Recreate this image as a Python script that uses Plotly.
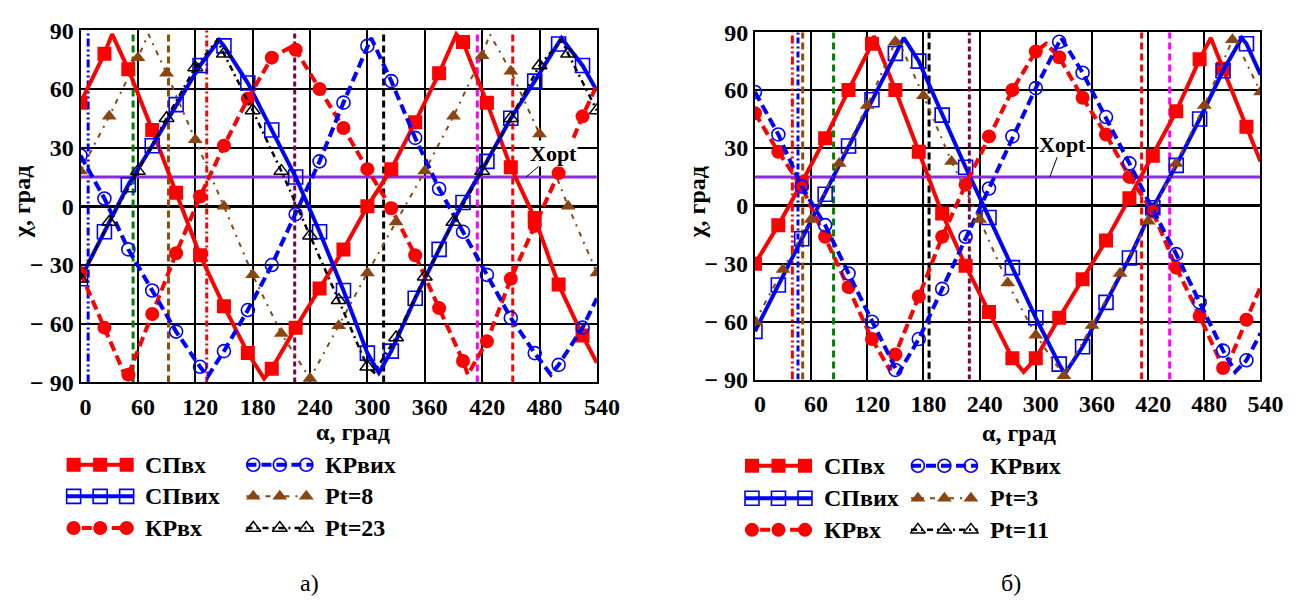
import plotly.graph_objects as go

# ---------------- ticks ----------------
X_TICKS = [0, 60, 120, 180, 240, 300, 360, 420, 480, 540]
X_TICK_TEXT = ["0", "60", "120", "180", "240", "300", "360", "420", "480", "540"]
Y_TICKS = [-90, -60, -30, 0, 30, 60, 90]
Y_TICK_TEXT = ["\u2212 90", "\u2212 60", "\u2212 30", "0", "30", "60", "90"]

# marker abscissas
MARK_X_25 = [0, 25, 50, 75, 100, 125, 150, 175, 200, 225, 250, 275, 300, 325, 350,
             375, 400, 425, 450, 475, 500, 525]
MARK_X_30 = [0, 30, 60, 90, 120, 150, 180, 210, 240, 270, 300, 330, 360, 390, 420,
             450, 480, 510, 540]

XOPT = 15

# ---------------- chart а) ----------------
A_SP_IN_Y = [53, 78, 70, 39, 7, -25, -51, -75, -83, -62, -42, -22, 0, 19, 43, 68, 84, 53, 20, -6, -40, -66]
A_SP_IN_VX = [33, 192, 393, 540]
A_SP_IN_VY = [88, -88, 88, -80]

A_SP_OUT_Y = [-37, -13, 11, 31, 52, 72, 82, 63, 39, 15, -13, -43, -75, -74, -47, -22, 2, 23, 45, 64, 83, 72]
A_SP_OUT_VX = [145, 312, 503, 540]
A_SP_OUT_VY = [85, -85, 86, 59]

A_KR_IN_Y = [-34, -62, -86, -55, -24, 5, 31, 55, 76, 80, 60, 40, 19, -1, -25, -52, -79, -69, -37, -10, 17, 46]
A_KR_IN_VX = [48, 222, 405, 540]
A_KR_IN_VY = [-88, 82, -86, 62]

A_KR_OUT_Y = [26, 4, -22, -43, -64, -82, -74, -53, -30, -4, 23, 53, 82, 64, 35, 9, -13, -35, -57, -75, -81, -62]
A_KR_OUT_VX = [133, 304, 492, 540]
A_KR_OUT_VY = [-87, 86, -86, -47]

A_PT1_Y = [18, 46, 76, 68, 34, 0, -35, -65, -88, -61, -34, -8, 18, 46, 77, 69, 37, 0, -34]
A_PT1_VX = [71, 428]
A_PT1_VY = [88, 88]

A_PT2_Y = [-37, -8, 18, 45, 71, 78, 49, 18, -15, -48, -82, -67, -36, -8, 18, 45, 72, 78, 49]
A_PT2_VX = [143, 307, 503]
A_PT2_VY = [85, -85, 85]

A_VLINES = [8, 55, 92, 132, 224, 317, 415, 452]

# ---------------- chart б) ----------------
B_SP_IN_Y = [-30, -10, 12, 35, 60, 84, 60, 28, -4, -31, -55, -79, -79, -58, -38, -18, 4, 26, 49, 76, 71, 41]
B_SP_IN_VX = [127, 287, 487, 540]
B_SP_IN_VY = [88, -86, 87, 23]

B_SP_OUT_Y = [-65, -41, -17, 6, 31, 55, 79, 75, 47, 20, -6, -32, -58, -82, -73, -50, -27, -1, 21, 45, 70, 84]
B_SP_OUT_VX = [159, 331, 520, 540]
B_SP_OUT_VY = [87, -87, 87, 68]

B_KR_IN_Y = [48, 28, 10, -16, -42, -69, -77, -47, -16, 11, 36, 60, 80, 77, 56, 37, 15, -3, -32, -57, -84, -59]
B_KR_IN_VX = [144, 311, 502, 540]
B_KR_IN_VY = [-85, 84, -86, -42]

B_KR_OUT_Y = [59, 37, 10, -10, -35, -60, -85, -69, -43, -16, 9, 36, 61, 85, 69, 46, 22, -2, -25, -50, -75, -80]
B_KR_OUT_VX = [153, 327, 513, 540]
B_KR_OUT_VY = [-87, 87, -86, -66]

B_PT1_Y = [-60, -33, -7, 22, 52, 85, 57, 23, -7, -40, -67, -88, -62, -35, -8, 22, 52, 86, 59]
B_PT1_VX = [151, 511]
B_PT1_VY = [88, 88]

B_VLINES = [40, 46, 51, 84, 186, 229, 413, 443]

# ---------------- styles ----------------
W, H = 1310, 607
LEG_TOP = 452
FONT = "Liberation Serif"
RED, BLUE, BROWN, BLACK = "#ff0000", "#0000ff", "#8b4513", "#000000"
VIOLET = "#8a2be2"
CLEAR = "rgba(0,0,0,0)"

STYLE = {
    "sp_in": dict(line=dict(color=RED, width=4), marker=dict(symbol="square", size=14, color=RED)),
    "sp_out": dict(line=dict(color=BLUE, width=4),
                   marker=dict(symbol="square-open", size=14, color=BLUE, line=dict(width=1.6, color=BLUE))),
    "kr_in": dict(line=dict(color=RED, width=4, dash="10px,5px"), marker=dict(symbol="circle", size=14, color=RED)),
    "kr_out": dict(line=dict(color=BLUE, width=4, dash="10px,5px"),
                   marker=dict(symbol="circle-open", size=13, color=BLUE, line=dict(width=1.6, color=BLUE))),
    "pt1": dict(line=dict(color=BROWN, width=2, dash="5px,6px,2px,6px"),
                marker=dict(symbol="triangle-up", size=13, color=BROWN)),
    "pt2": dict(line=dict(color=BLACK, width=2.5, dash="6px,4px,2px,4px"),
                marker=dict(symbol="triangle-up-open", size=13, color=BLACK, line=dict(width=1.5, color=BLACK))),
}
VLINE_STYLE_A = [(BLUE, "8px,3px,2px,3px,2px,3px"), ("#008000", "7px,4px"), ("#964b00", "7px,4px"),
                 (RED, "6px,3px,2px,3px"), ("#800040", "5px,3px"), (BLACK, "7px,4px"),
                 ("#ff00ff", "7px,4px"), (RED, "7px,4px")]
VLINE_STYLE_B = [(RED, "8px,3px,2px,3px,2px,3px"), (BLUE, "6px,3px,2px,3px"), ("#964b00", "7px,4px"),
                 ("#008000", "7px,4px"), (BLACK, "7px,4px"), ("#800040", "5px,3px"),
                 (RED, "7px,4px"), ("#ff00ff", "7px,4px")]


def merged(mx, my, vx, vy):
    pts = dict(zip(mx, my))
    for x, y in zip(vx, vy):
        pts[x] = y
    xs = sorted(pts)
    return xs, [pts[x] for x in xs]


fig = go.Figure()

# vertical marker lines (below the curves)
for xa, ya, vals, styles in (("x", "y", A_VLINES, VLINE_STYLE_A), ("x2", "y2", B_VLINES, VLINE_STYLE_B)):
    for v, (c, d) in zip(vals, styles):
        fig.add_trace(go.Scatter(x=[v, v], y=[-90, 90], mode="lines", line=dict(color=c, width=3, dash=d),
                                 xaxis=xa, yaxis=ya, hoverinfo="skip"))

for xa, ya in (("x", "y"), ("x2", "y2")):
    fig.add_trace(go.Scatter(x=[0, 540], y=[XOPT, XOPT], mode="lines",
                             line=dict(color=VIOLET, width=3), xaxis=xa, yaxis=ya, hoverinfo="skip"))


def add_series(xa, ya, mx, my, vx, vy, key):
    st = STYLE[key]
    lx, ly = merged(mx, my, vx, vy)
    fig.add_trace(go.Scatter(x=lx, y=ly, mode="lines", line=st["line"], xaxis=xa, yaxis=ya,
                             hoverinfo="skip"))
    fig.add_trace(go.Scatter(x=mx, y=my, mode="markers", marker=st["marker"], xaxis=xa, yaxis=ya))


# chart а
add_series("x", "y", MARK_X_25, A_SP_IN_Y, A_SP_IN_VX, A_SP_IN_VY, "sp_in")
add_series("x", "y", MARK_X_25, A_SP_OUT_Y, A_SP_OUT_VX, A_SP_OUT_VY, "sp_out")
add_series("x", "y", MARK_X_25, A_KR_IN_Y, A_KR_IN_VX, A_KR_IN_VY, "kr_in")
add_series("x", "y", MARK_X_25, A_KR_OUT_Y, A_KR_OUT_VX, A_KR_OUT_VY, "kr_out")
add_series("x", "y", MARK_X_30, A_PT1_Y, A_PT1_VX, A_PT1_VY, "pt1")
add_series("x", "y", MARK_X_30, A_PT2_Y, A_PT2_VX, A_PT2_VY, "pt2")
# chart б
add_series("x2", "y2", MARK_X_25, B_SP_IN_Y, B_SP_IN_VX, B_SP_IN_VY, "sp_in")
add_series("x2", "y2", MARK_X_25, B_SP_OUT_Y, B_SP_OUT_VX, B_SP_OUT_VY, "sp_out")
add_series("x2", "y2", MARK_X_25, B_KR_IN_Y, B_KR_IN_VX, B_KR_IN_VY, "kr_in")
add_series("x2", "y2", MARK_X_25, B_KR_OUT_Y, B_KR_OUT_VX, B_KR_OUT_VY, "kr_out")
add_series("x2", "y2", MARK_X_30, B_PT1_Y, B_PT1_VX, B_PT1_VY, "pt1")

# ---------------- legends (drawn on a hidden pixel axis below the charts) ----------------
LEGEND_A = {"left": 67, "col2": 250, "rows": [472, 505, 538],
            "labels": [["СПвх", "СПвих", "КРвх"], ["КРвих", "Pt=8", "Pt=23"]],
            "keys": [["sp_in", "sp_out", "kr_in"], ["kr_out", "pt1", "pt2"]]}
LEGEND_B = {"left": 758, "col2": 927, "rows": [473, 507, 540],
            "labels": [["СПвх", "СПвих", "КРвх"], ["КРвих", "Pt=3", "Pt=11"]],
            "keys": [["sp_in", "sp_out", "kr_in"], ["kr_out", "pt1", "pt2"]]}

annotations = []
for lg in (LEGEND_A, LEGEND_B):
    for ci, x0 in enumerate((lg["left"], lg["col2"])):
        for ri, yrow in enumerate(lg["rows"]):
            key = lg["keys"][ci][ri]
            st = STYLE[key]
            fig.add_trace(go.Scatter(x=[x0, x0 + 68], y=[yrow, yrow], mode="lines", line=st["line"],
                                     xaxis="x3", yaxis="y3", hoverinfo="skip"))
            fig.add_trace(go.Scatter(x=[x0 + 7, x0 + 34, x0 + 61], y=[yrow] * 3, mode="markers",
                                     marker=st["marker"], xaxis="x3", yaxis="y3", hoverinfo="skip",
                                     cliponaxis=False))
            annotations.append(dict(xref="x3", yref="y3", x=x0 + 78, y=yrow, text=lg["labels"][ci][ri],
                                    showarrow=False, xanchor="left", yanchor="middle",
                                    font=dict(family=FONT, size=24, color="black", weight="bold")))

# axis titles / captions
for xp in (21, 709):
    annotations.append(dict(xref="paper", yref="paper", x=xp / W, y=1 - 198 / H, text="χ, град",
                            textangle=-90, showarrow=False, xanchor="center", yanchor="middle",
                            font=dict(family=FONT, size=24, color="black", weight="bold")))
for xp, yp in ((359, 438), (1037, 439)):
    annotations.append(dict(xref="paper", yref="paper", x=xp / W, y=1 - yp / H, text="α, град",
                            showarrow=False, xanchor="center", yanchor="middle",
                            font=dict(family=FONT, size=24, color="black", weight="bold")))
for xp, txt in ((314, "а)"), (1029, "б)")):
    annotations.append(dict(xref="paper", yref="paper", x=xp / W, y=1 - 595 / H, text=txt,
                            showarrow=False, xanchor="center", yanchor="middle",
                            font=dict(family=FONT, size=24, color="black")))

# Xopt labels
for xr, yr, tip, lab in (("x", "y", 466, (495, 27)), ("x2", "y2", 315, (328, 32))):
    annotations.append(dict(xref=xr, yref=yr, x=tip, y=XOPT, ax=lab[0], ay=lab[1], axref=xr, ayref=yr,
                            text="Xopt", showarrow=True, arrowhead=0, arrowwidth=1, arrowcolor="black",
                            bgcolor="white", borderpad=0,
                            font=dict(family=FONT, size=22, color="black", weight="bold")))


def xaxis_cfg(dom, anchor):
    return dict(domain=dom, range=[0, 540], anchor=anchor, tickvals=X_TICKS, ticktext=X_TICK_TEXT,
                showgrid=True, gridcolor="black", gridwidth=1.5, zeroline=False,
                showline=True, mirror=True, linecolor="black", linewidth=2, ticks="",
                ticklabelshift=5, ticklabelstandoff=2,
                tickfont=dict(family=FONT, size=24, color="black", weight="bold"), fixedrange=True)


def yaxis_cfg(dom, anchor):
    return dict(domain=dom, range=[-90, 90], anchor=anchor, tickvals=Y_TICKS, ticktext=Y_TICK_TEXT,
                showgrid=True, gridcolor="black", gridwidth=1.5, zeroline=True, zerolinecolor="black",
                zerolinewidth=3, showline=True, mirror=True, linecolor="black", linewidth=2, ticks="",
                tickfont=dict(family=FONT, size=24, color="black", weight="bold"), fixedrange=True)


fig.update_layout(
    width=W, height=H, margin=dict(l=0, r=0, t=0, b=0), autosize=False,
    paper_bgcolor="white", plot_bgcolor=CLEAR, showlegend=False,
    xaxis=xaxis_cfg([81 / W, 607 / W], "y"),
    yaxis=yaxis_cfg([1 - 386 / H, 1 - 18 / H], "x"),
    xaxis2=xaxis_cfg([768 / W, 1283 / W], "y2"),
    yaxis2=yaxis_cfg([1 - 383 / H, 1 - 20 / H], "x2"),
    xaxis3=dict(domain=[0, 1], range=[0, W], visible=False, anchor="y3", fixedrange=True),
    yaxis3=dict(domain=[0, 1 - LEG_TOP / H], range=[H, LEG_TOP], visible=False, anchor="x3", fixedrange=True),
    annotations=annotations,
)

fig.write_html("out.html", config={"displayModeBar": False},
               post_script="document.body.style.margin='0';document.body.style.overflow='hidden';")
